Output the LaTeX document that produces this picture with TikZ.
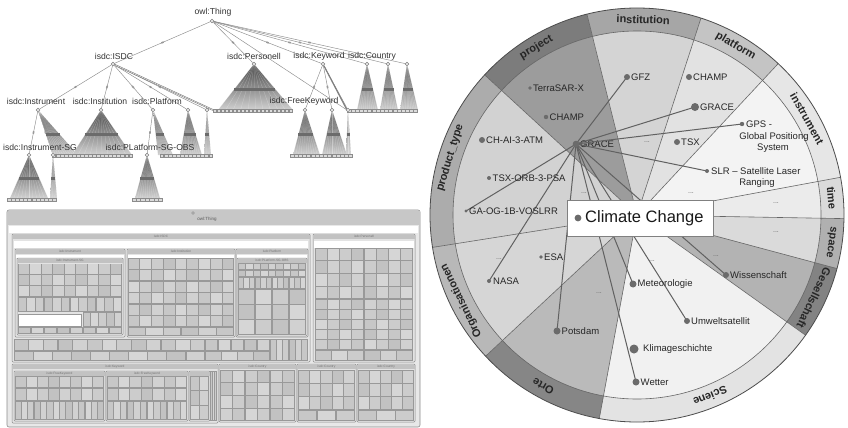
\documentclass[tikz,border=0pt]{standalone}
\usepackage{fontspec}
\setmainfont{Liberation Sans}
% ring / inner colours of the radial view
\definecolor{rProject}{HTML}{7C7C7C}\definecolor{iProject}{HTML}{9C9C9C}
\definecolor{rInstit}{HTML}{A6A6A6}\definecolor{iInstit}{HTML}{D4D4D4}
\definecolor{rPlat}{HTML}{C4C4C4}\definecolor{iPlat}{HTML}{E2E2E2}
\definecolor{rInstr}{HTML}{E6E6E6}\definecolor{iInstr}{HTML}{F3F3F3}
\definecolor{rTime}{HTML}{DADADA}\definecolor{iTime}{HTML}{EBEBEB}
\definecolor{rSpace}{HTML}{B0B0B0}\definecolor{iSpace}{HTML}{DADADA}
\definecolor{rGes}{HTML}{838383}\definecolor{iGes}{HTML}{B3B3B3}
\definecolor{rSci}{HTML}{E3E3E3}\definecolor{iSci}{HTML}{F1F1F1}
\definecolor{rOrte}{HTML}{868686}\definecolor{iOrte}{HTML}{BABABA}
\definecolor{rOrg}{HTML}{B8B8B8}\definecolor{iOrg}{HTML}{D6D6D6}
\definecolor{rProd}{HTML}{ACACAC}\definecolor{iProd}{HTML}{D2D2D2}

% fan-shaped subtree: apex x, apex y, base left x, base right x, base y
\newcommand\fantri[5]{%
  \shade[top color=black!72, bottom color=black!18] (#1,#2) -- (#3,#5) -- (#4,#5) -- cycle;
  \foreach \fk in {0,...,10}{\draw[white, line width=0.25pt, opacity=0.35] (#1,#2) -- ({#3+(#4-#3)*\fk/10},#5);}
  \pgfmathsetmacro\fby{#2+0.55*(#5-#2)}%
  \pgfmathsetmacro\fbl{#1+0.55*(#3-#1)}%
  \pgfmathsetmacro\fbr{#1+0.55*(#4-#1)}%
  \fill[black!58] (\fbl,\fby-1.6) rectangle (\fbr,\fby+1.6);
}
% row of leaf boxes under a subtree: left x, right x, top y
\newcommand\basebar[3]{%
  \fill[black!45] (#1,#3) rectangle (#2,#3+4);
  \pgfmathtruncatemacro\bbn{(#2-#1)/4}%
  \pgfmathsetmacro\bbw{(#2-#1)/\bbn}%
  \foreach \bi in {1,...,\bbn}{\fill[black!14] ({#1+(\bi-1)*\bbw+0.6},#3+0.8) rectangle ({#1+\bi*\bbw-0.6},#3+3.2);}
}
% treemap grid: x0, y0, x1, y1, columns, rows
\newcommand\tmgrid[6]{%
  \fill[black!40] (#1,#2) rectangle (#3,#4);
  \pgfmathsetmacro\tgw{(#3-#1)/#5}%
  \pgfmathsetmacro\tgh{(#4-#2)/#6}%
  \foreach \gi in {1,...,#5}{\foreach \gj in {1,...,#6}{%
    \pgfmathtruncatemacro\gsh{16+mod(\gi*7+\gj*11,5)*2}%
    \fill[black!\gsh] ({#1+(\gi-1)*\tgw+0.6},{#2+(\gj-1)*\tgh+0.6}) rectangle ({#1+\gi*\tgw-0.6},{#2+\gj*\tgh-0.6});
  }}%
}
% treemap container with header strip: x0, y0, x1, y1, title
\newcommand\tmbox[5]{%
  \filldraw[fill=black!11, draw=black!45, line width=0.5pt, rounded corners=1pt] (#1,#2) rectangle (#3,#4);
  \fill[black!24] (#1+0.5,#2+0.5) rectangle (#3-0.5,#2+5);
  \node[tmtext] at ({(#1+#3)/2},#2+2.8) {#5};
}
% one category of the radial view: start angle, end angle, ring colour, inner colour
\newcommand\sbwedge[4]{%
  \fill[#4] (0,0) -- (#1:184) arc[start angle=#1, end angle=#2, radius=184] -- cycle;
  \fill[#3] (#1:184) arc[start angle=#1, end angle=#2, radius=184] -- (#2:207) arc[start angle=#2, end angle=#1, radius=207] -- cycle;
}

\begin{document}
\begin{tikzpicture}[x=1pt,y=-1pt,
  tnode/.style={circle, draw=black!50, fill=black!10, inner sep=0pt, minimum size=3.6pt, line width=0.4pt},
  tedge/.style={draw=black!45, line width=0.45pt},
  emk/.style={rectangle, fill=black!40, inner sep=0pt, minimum width=2.6pt, minimum height=1.6pt},
  tlbl/.style={font=\fontsize{8.6}{9}\selectfont, text=black!80, inner sep=0pt},
  tmtext/.style={font=\fontsize{3.2}{3.5}\selectfont, text=black!55, inner sep=0pt},
  ringlbl/.style={font=\bfseries\fontsize{11}{12}\selectfont, text=black!85, inner sep=0pt},
  itemlbl/.style={font=\fontsize{9.5}{10.5}\selectfont, text=black!85, inner sep=0pt, anchor=west},
  ellip/.style={font=\fontsize{7}{7}\selectfont, text=black!60, inner sep=0pt},
  sepline/.style={draw=black!60, line width=0.6pt},
  linkline/.style={draw=black!62, line width=1pt},
  dotc/.style={fill=black!58},
]
\useasboundingbox (0,0) rectangle (848,428);
\fill[white] (0,0) rectangle (848,428);

%================ class hierarchy tree =================
\node[tnode] (root) at (212,21) {};
\node[tnode] (isdc) at (113,64) {};
\node[tnode] (pers) at (254,64) {};
\node[tnode] (kw) at (323,64) {};
\node[tnode] (c1) at (367,64) {};
\node[tnode] (c2) at (388,64) {};
\node[tnode] (c3) at (407,64) {};
\node[tnode] (instr) at (38,110) {};
\node[tnode] (inst) at (101,110) {};
\node[tnode] (plat) at (153,110) {};
\node[tnode] (p2) at (188,110) {};
\node[tnode] (p3) at (207,110) {};
\node[tnode] (fk1) at (305,110) {};
\node[tnode] (fk2) at (332,110) {};
\node[tnode] (fk3) at (348,110) {};
\node[tnode] (isg) at (29,155) {};
\node[tnode] (i2) at (53,155) {};
\node[tnode] (psg) at (147,155) {};
\coordinate (persbar) at (213,110);
\coordinate (ctrybar) at (347,110);

\path[tedge] (root) edge node[emk,sloped]{} (isdc)
             edge node[emk,sloped]{} (pers)
             edge node[emk,sloped]{} (kw)
             edge node[emk,sloped]{} (c1)
             edge node[emk,sloped]{} (c2)
             edge node[emk,sloped]{} (c3)
             edge (ctrybar);
\path[tedge] (isdc) edge node[emk,sloped]{} (instr)
             edge node[emk,sloped]{} (inst)
             edge node[emk,sloped]{} (plat)
             edge node[emk,sloped]{} (p2)
             edge node[emk,sloped]{} (p3);
\draw[black!55, line width=1.5pt] (isdc) -- (persbar);
\draw[white, line width=0.4pt] (isdc) -- (persbar);
\path[tedge] (kw) edge node[emk,sloped]{} (fk1)
             edge node[emk,sloped]{} (fk2)
             edge (fk3);
\draw[black!50, line width=1.2pt] (kw) -- (ctrybar);
\path[tedge] (instr) edge node[emk,sloped]{} (isg)
             edge node[emk,sloped]{} (i2);
\path[tedge] (plat) edge node[emk,sloped]{} (psg);

\fantri{254}{64}{218}{293}{110}
\fantri{367}{64}{357}{378}{110}
\fantri{388}{64}{380}{398}{110}
\fantri{407}{64}{400}{418}{110}
\fantri{38}{110}{53}{78}{155}
\fantri{101}{110}{72}{132}{155}
\fantri{153}{110}{158}{173}{155}
\fantri{188}{110}{180}{202}{155}
\fantri{207}{110}{204}{211}{155}
\fantri{305}{110}{293}{320}{155}
\fantri{332}{110}{322}{347}{155}
\fantri{348}{110}{346}{351}{155}
\fantri{29}{155}{10}{48}{198}
\fantri{53}{155}{50}{57}{198}
\fantri{147}{155}{135}{160}{198}

\basebar{213}{293}{109}
\basebar{347}{418}{109}
\basebar{52}{133}{154}
\basebar{160}{213}{154}
\basebar{290}{353}{154}
\basebar{7}{57}{198}
\basebar{132}{163}{198}

\foreach \n in {root,isdc,pers,kw,c1,c2,c3,instr,inst,plat,p2,p3,fk1,fk2,fk3,isg,i2,psg}
  \node[tnode] at (\n) {};

\node[tlbl] (lroot) at (213,12) {owl:Thing};
\node[tlbl] (lisdc) at (114,56) {isdc:ISDC};
\node[tlbl] (lpers) at (254,56) {isdc:Personell};
\node[tlbl] (lkw) at (319,56) {isdc:Keyword};
\node[tlbl] (lctry) at (372,56) {isdc:Country};
\node[tlbl] (linstr) at (36,101) {isdc:Instrument};
\node[tlbl] (linst) at (100,101) {isdc:Institution};
\node[tlbl] (lplat) at (157,101) {isdc:Platform};
\node[tlbl] (lfk) at (304,101) {isdc:FreeKeyword};
\node[tlbl] (lisg) at (40,147) {isdc:Instrument-SG};
\node[tlbl] (lpsg) at (150,147) {isdc:PLatform-SG-OBS};

%================ treemap =================
\filldraw[fill=black!9, draw=black!45, line width=0.6pt, rounded corners=2pt] (7,210) rectangle (420,427);
\fill[black!22] (7.5,210.5) rectangle (419.5,225);
\filldraw[fill=black!30, draw=black!50, line width=0.3pt] (193,213) circle[radius=1.5];
\node[font=\fontsize{4.5}{5}\selectfont, text=black!65, inner sep=0pt] (tmroot) at (207,219) {owl:Thing};
\fill[white] (9,226) rectangle (418,233);

% isdc:ISDC
\tmbox{12}{234}{310}{362}{isdc:ISDC}
\fill[white] (14,240.5) rectangle (308,248);
\tmbox{15}{249}{125}{337}{isdc:Instrument}
\fill[white] (16,254.5) rectangle (124,258);
\tmbox{17}{258}{123}{335}{isdc:Instrument-SG}
\tmgrid{18}{263.5}{122}{297}{9}{3}
\tmgrid{18}{297}{122}{312}{12}{1}
\tmgrid{83}{312}{122}{327}{5}{1}
\filldraw[fill=white, draw=black!40, line width=0.4pt] (18,314) rectangle (81,326);
\tmgrid{18}{327}{122}{334}{8}{1}
\tmbox{127}{249}{235}{337}{isdc:Institution}
\fill[white] (128,254.5) rectangle (234,258);
\tmgrid{128}{258}{234}{327}{9}{6}
\tmgrid{128}{327}{234}{336}{6}{1}
\tmbox{236}{249}{308}{337}{isdc:Platform}
\fill[white] (237,254.5) rectangle (307,258);
\tmbox{237}{258}{307}{336}{isdc:PLatform-SG-OBS}
\tmgrid{238}{263}{306}{277}{9}{2}
\tmgrid{238}{277}{306}{289}{12}{1}
\tmgrid{238}{289}{306}{335}{4}{3}
\tmgrid{14}{339}{205}{351}{13}{1}
\tmgrid{14}{351}{205}{361}{10}{1}
\tmgrid{205}{339}{270}{351}{5}{1}
\tmgrid{205}{351}{270}{361}{4}{1}
\tmgrid{270}{339}{308}{361}{6}{1}

% isdc:Personell
\tmbox{313}{234}{415}{362}{isdc:Personell}
\fill[white] (314,240.5) rectangle (414,248);
\tmgrid{315}{248}{413}{299}{8}{4}
\tmgrid{315}{299}{413}{350}{8}{5}
\tmgrid{315}{350}{413}{361}{6}{1}

% lower row
\tmbox{12}{364}{218}{423}{isdc:Keyword}
\tmbox{14}{371}{105}{421}{isdc:FreeKeyword}
\tmgrid{15}{376}{104}{388}{8}{1}
\tmgrid{15}{388}{104}{401}{8}{1}
\tmgrid{15}{401}{104}{420}{14}{1}
\tmbox{106}{371}{188}{421}{isdc:FreeKeyword}
\tmgrid{107}{376}{187}{388}{7}{1}
\tmgrid{107}{388}{187}{401}{7}{1}
\tmgrid{107}{401}{187}{420}{12}{1}
\tmbox{189}{371}{210}{421}{}
\tmgrid{190}{376}{209}{420}{2}{3}
\tmgrid{210}{371}{217}{421}{3}{1}
\tmbox{219}{364}{296}{422}{isdc:Country}
\tmgrid{220}{370}{295}{421}{6}{4}
\tmbox{297}{364}{356}{422}{isdc:Country}
\tmgrid{298}{370}{355}{410}{5}{3}
\tmgrid{298}{410}{355}{421}{3}{1}
\tmbox{357}{364}{415}{422}{isdc:Country}
\tmgrid{358}{370}{414}{410}{5}{3}
\tmgrid{358}{410}{414}{421}{3}{1}

%================ radial view =================
\begin{scope}[shift={(637,215)}, y=1pt]
  \sbwedge{137.4}{104}{rProject}{iProject}
  \sbwedge{104}{72}{rInstit}{iInstit}
  \sbwedge{72}{47}{rPlat}{iPlat}
  \sbwedge{47}{10.5}{rInstr}{iInstr}
  \sbwedge{10.5}{-1}{rTime}{iTime}
  \sbwedge{-1}{-15}{rSpace}{iSpace}
  \sbwedge{-15}{-35.5}{rGes}{iGes}
  \sbwedge{-35.5}{-100.5}{rSci}{iSci}
  \sbwedge{-100.5}{-137}{rOrte}{iOrte}
  \sbwedge{-137}{-171}{rOrg}{iOrg}
  \sbwedge{-171}{-222.6}{rProd}{iProd}
  \foreach \a in {137.4,104,72,47,10.5,-1,-15,-35.5,-100.5,-137,-171}
    \draw[sepline] (0,0) -- (\a:207);
  \draw[sepline] (0,0) circle[radius=184];
  \draw[draw=black!70, line width=0.8pt] (0,0) circle[radius=207];
  \node[ringlbl, rotate=31] (gproject) at (121:195.5) {project};
  \node[ringlbl, rotate=-1.8] (ginstit) at (88.2:195.5) {institution};
  \node[ringlbl, rotate=-30.3] (gplat) at (59.7:195.5) {platform};
  \node[ringlbl, rotate=-60.5] (ginstr) at (29.5:195.5) {instrument};
  \node[ringlbl, rotate=-85] (gtime) at (5:195.5) {time};
  \node[ringlbl, rotate=-98] (gspace) at (-8:195.5) {space};
  \node[ringlbl, rotate=-115.2] (gges) at (-25.2:195.5) {Gesellschaft};
  \node[ringlbl, rotate=-158] (gsci) at (-68:195.5) {Sciene};
  \node[ringlbl, rotate=151.3] (gorte) at (-118.7:195.5) {Orte};
  \node[ringlbl, rotate=116] (gorg) at (-154:195.5) {Organisationen};
  \node[ringlbl, rotate=73] (gprod) at (163:195.5) {product\_type};
\end{scope}

% entries of the radial view
\coordinate (hub) at (576,144);
\coordinate (gfz) at (627,77);
\coordinate (grpl) at (695,107);
\coordinate (gps) at (742,124);
\coordinate (slr) at (707,171);
\coordinate (gaog) at (466,211);
\coordinate (nasa) at (489,281);
\coordinate (pots) at (557,331);
\coordinate (wet) at (636,382);
\coordinate (met) at (633,284);
\coordinate (umw) at (687,321);
\coordinate (wiss) at (726,275);
\coordinate (terra) at (530,88);
\coordinate (champa) at (546,117);
\coordinate (chai) at (482,140);
\coordinate (tsxorb) at (489,178);
\coordinate (champb) at (689,77);
\coordinate (tsx) at (677,142);
\coordinate (esa) at (541,257);
\coordinate (klima) at (634,349);

\node[ellip] (e1) at (647,142) {...};
\node[ellip] (e2) at (584,193) {...};
\node[ellip] (e3) at (691,193) {...};
\node[ellip] (e4) at (776,203) {...};
\node[ellip] (e5) at (776,232) {...};
\node[ellip] (e6) at (716,256) {...};
\node[ellip] (e7) at (652,261) {...};
\node[ellip] (e8) at (599,293) {...};
\node[ellip] (e9) at (499,259) {...};

\node[itemlbl] (lgrace) at (580,144) {GRACE};

\foreach \t in {gfz,grpl,gps,slr,gaog,nasa,pots,wet,met,umw,wiss}
  \draw[linkline] (hub) -- (\t);

\fill[dotc] (hub) circle[radius=3.3];
\fill[dotc] (gfz) circle[radius=3];
\fill[dotc] (grpl) circle[radius=4];
\fill[dotc] (gps) circle[radius=2.2];
\fill[dotc] (slr) circle[radius=2];
\fill[dotc] (gaog) circle[radius=1.6];
\fill[dotc] (nasa) circle[radius=2];
\fill[dotc] (pots) circle[radius=3.5];
\fill[dotc] (wet) circle[radius=3.5];
\fill[dotc] (met) circle[radius=3.5];
\fill[dotc] (umw) circle[radius=3];
\fill[dotc] (wiss) circle[radius=3];
\fill[dotc] (terra) circle[radius=1.8];
\fill[dotc] (champa) circle[radius=2.2];
\fill[dotc] (chai) circle[radius=3];
\fill[dotc] (tsxorb) circle[radius=2];
\fill[dotc] (champb) circle[radius=3];
\fill[dotc] (tsx) circle[radius=3];
\fill[dotc] (esa) circle[radius=1.8];
\fill[dotc] (klima) circle[radius=4.5];

\node[itemlbl] at ([xshift=4pt]gfz) {GFZ};
\node[itemlbl] at ([xshift=5pt]grpl) {GRACE};
\node[itemlbl] at ([xshift=4pt]gps) {GPS -};
\node[itemlbl, anchor=center] at (774,137) {Global Positiong};
\node[itemlbl, anchor=center] at (773,148.5) {System};
\node[itemlbl] at ([xshift=4pt]slr) {SLR – Satellite Laser};
\node[itemlbl, anchor=center] at (757,183) {Ranging};
\node[itemlbl] at ([xshift=3pt]gaog) {GA-OG-1B-VOSLRR};
\node[itemlbl] at ([xshift=4pt]nasa) {NASA};
\node[itemlbl] at ([xshift=4.5pt]pots) {Potsdam};
\node[itemlbl] at ([xshift=4.5pt]wet) {Wetter};
\node[itemlbl] at ([xshift=4.5pt]met) {Meteorologie};
\node[itemlbl] at ([xshift=4pt]umw) {Umweltsatellit};
\node[itemlbl] at ([xshift=4pt]wiss) {Wissenschaft};
\node[itemlbl] at ([xshift=3pt]terra) {TerraSAR-X};
\node[itemlbl] at ([xshift=3.5pt]champa) {CHAMP};
\node[itemlbl] at ([xshift=4pt]chai) {CH-AI-3-ATM};
\node[itemlbl] at ([xshift=3.5pt]tsxorb) {TSX-ORB-3-PSA};
\node[itemlbl] at ([xshift=4pt]champb) {CHAMP};
\node[itemlbl] at ([xshift=4pt]tsx) {TSX};
\node[itemlbl] at ([xshift=3pt]esa) {ESA};
\node[itemlbl] at ([xshift=9pt]klima) {Klimageschichte};

% focus box
\node[draw=black!50, fill=white, line width=0.6pt, minimum width=146pt, minimum height=36pt, inner sep=0pt] (ccbox) at (640,218) {};
\fill[dotc] (578,218) circle[radius=3.4];
\node[font=\fontsize{16.5}{18}\selectfont, text=black!90, inner sep=0pt, anchor=west] (cctext) at (585,218.5) {Climate Change};
\end{tikzpicture}
\end{document}
